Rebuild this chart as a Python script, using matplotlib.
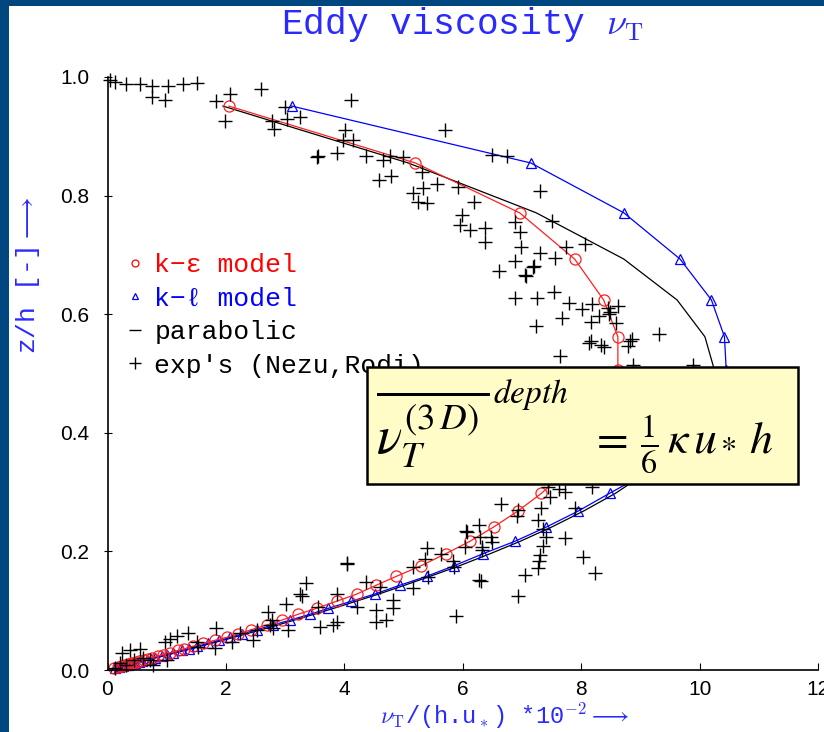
import matplotlib
matplotlib.use('Agg')
import matplotlib.pyplot as plt
from matplotlib.lines import Line2D
from matplotlib.patches import Rectangle
from matplotlib import font_manager

W, H = 824, 732

# z/h levels where the model profiles were written out
z_grid = [0.951, 0.855, 0.771, 0.693, 0.624, 0.562, 0.506, 0.455, 0.410, 0.369,
          0.332, 0.298, 0.268, 0.241, 0.217, 0.196, 0.176, 0.158, 0.143, 0.128,
          0.116, 0.104, 0.094, 0.084, 0.076, 0.068, 0.061, 0.055, 0.050, 0.045,
          0.040, 0.036, 0.033, 0.029, 0.026, 0.024, 0.021, 0.019, 0.017, 0.015,
          0.014, 0.012, 0.011, 0.010, 0.009, 0.008, 0.007, 0.006, 0.005, 0.003]

# nu_T/(h u*) * 1e2
nu_ke = [2.05, 5.20, 6.96, 7.89, 8.38, 8.62, 8.62, 8.50, 8.30, 8.00,
         7.70, 7.33, 6.93, 6.52, 6.12, 5.71, 5.30, 4.88, 4.54, 4.21,
         3.87, 3.53, 3.22, 2.94, 2.69, 2.43, 2.21, 2.01, 1.81, 1.62,
         1.44, 1.30, 1.19, 1.05, 0.94, 0.86, 0.76, 0.68, 0.61, 0.54,
         0.50, 0.43, 0.40, 0.36, 0.32, 0.29, 0.25, 0.22, 0.18, 0.11]
nu_kl = [3.11, 7.15, 8.72, 9.67, 10.20, 10.42, 10.45, 10.30, 10.00, 9.60,
         9.10, 8.48, 7.95, 7.41, 6.88, 6.34, 5.86, 5.39, 4.94, 4.51,
         4.12, 3.73, 3.42, 3.08, 2.80, 2.52, 2.28, 2.07, 1.89, 1.70,
         1.52, 1.37, 1.26, 1.11, 1.00, 0.92, 0.81, 0.73, 0.66, 0.58,
         0.54, 0.47, 0.43, 0.39, 0.35, 0.31, 0.27, 0.23, 0.19, 0.12]
nu_par = [1.95, 5.08, 7.24, 8.72, 9.62, 10.09, 10.25, 10.17, 9.92, 9.55,
          9.09, 8.58, 8.04, 7.50, 6.97, 6.46, 5.95, 5.45, 5.02, 4.58,
          4.20, 3.82, 3.49, 3.15, 2.88, 2.60, 2.35, 2.13, 1.95, 1.76,
          1.57, 1.42, 1.31, 1.15, 1.04, 0.96, 0.84, 0.76, 0.69, 0.61,
          0.57, 0.49, 0.45, 0.41, 0.37, 0.33, 0.29, 0.24, 0.20, 0.12]

# measurements (Nezu, Rodi)
exp_x = [0.05, 0.13, 0.32, 0.55, 0.76, 1.03, 1.27, 1.51, 0.75, 0.97, 1.84, 2.07,
         2.60, 1.98, 3.00, 3.25, 3.04, 2.77, 2.81, 4.12, 5.70, 4.01, 3.98, 4.15,
         3.53, 3.55, 3.87, 4.37, 4.65, 4.77, 4.99, 4.59, 4.78, 5.32, 5.56, 5.33,
         5.16, 5.25, 5.39, 5.92, 6.19, 5.98, 5.95, 6.12, 6.50, 6.74, 7.30, 6.37,
         6.37, 6.89, 6.97, 7.51, 7.75, 8.06, 6.99, 6.88, 7.30, 7.55, 7.19, 7.21,
         7.05, 7.06, 6.62, 6.89, 7.25, 7.54, 7.79, 8.02, 8.19, 7.68, 7.23, 8.17,
         8.30, 8.45, 8.47, 8.49, 8.62, 8.59, 8.16, 8.34, 8.38, 8.82, 8.86, 8.79,
         9.32, 7.65, 9.89, 8.87, 8.14,
         7.62, 7.44, 7.72, 8.18, 7.47, 6.65, 7.33, 7.89, 6.93, 6.91, 6.28, 6.06,
         6.08, 6.29, 7.27, 7.36, 7.41, 7.36, 7.30, 7.29, 7.27, 7.72, 8.03, 8.23,
         6.48, 6.50, 6.32, 6.32, 6.03, 5.84, 5.86, 6.28, 6.30, 7.05, 6.93, 5.88,
         5.39, 5.36, 5.64, 5.16, 5.16, 5.41, 4.04, 4.05, 4.37, 4.60, 4.54, 4.71,
         4.54, 4.82, 4.82, 3.87, 4.21, 3.87, 3.81, 3.59, 3.56, 3.36, 3.25, 3.28,
         3.02, 2.71, 2.77, 2.74, 2.80, 3.05, 2.46, 2.52, 2.24, 2.10, 1.84, 1.81,
         1.51, 1.53, 1.36, 1.17, 1.05, 0.97, 1.00, 0.77, 0.55, 0.38, 0.24, 0.44,
         0.60, 0.72, 0.21, 0.32, 0.13]
exp_y = [0.995, 0.992, 0.988, 0.988, 0.984, 0.984, 0.989, 0.990, 0.966, 0.961, 0.960, 0.972,
         0.980, 0.925, 0.949, 0.933, 0.929, 0.926, 0.912, 0.962, 0.911, 0.911, 0.894, 0.894,
         0.865, 0.866, 0.871, 0.866, 0.860, 0.866, 0.865, 0.826, 0.833, 0.840, 0.819, 0.812,
         0.805, 0.790, 0.787, 0.815, 0.790, 0.768, 0.750, 0.742, 0.868, 0.866, 0.808, 0.745,
         0.721, 0.756, 0.739, 0.758, 0.714, 0.718, 0.713, 0.690, 0.703, 0.694, 0.680, 0.682,
         0.666, 0.664, 0.673, 0.628, 0.628, 0.638, 0.619, 0.608, 0.618, 0.593, 0.580, 0.587,
         0.597, 0.610, 0.601, 0.603, 0.613, 0.586, 0.555, 0.548, 0.545, 0.554, 0.559, 0.546,
         0.567, 0.530, 0.514, 0.514, 0.552,
         0.305, 0.309, 0.301, 0.309, 0.292, 0.280, 0.274, 0.273, 0.270, 0.260, 0.245, 0.235,
         0.233, 0.225, 0.253, 0.237, 0.224, 0.209, 0.194, 0.183, 0.172, 0.222, 0.191, 0.164,
         0.224, 0.216, 0.208, 0.202, 0.208, 0.183, 0.174, 0.152, 0.150, 0.160, 0.125, 0.091,
         0.205, 0.188, 0.196, 0.174, 0.138, 0.157, 0.180, 0.178, 0.149, 0.140, 0.101, 0.084,
         0.081, 0.118, 0.104, 0.129, 0.107, 0.081, 0.076, 0.073, 0.107, 0.146, 0.129, 0.124,
         0.112, 0.098, 0.084, 0.076, 0.070, 0.067, 0.051, 0.067, 0.062, 0.048, 0.070, 0.037,
         0.048, 0.039, 0.063, 0.057, 0.053, 0.047, 0.017, 0.008, 0.035, 0.033, 0.028, 0.017,
         0.020, 0.017, 0.011, 0.008, 0.003]

xticks = [0, 2, 4, 6, 8, 10, 12]
yticks = [0.0, 0.2, 0.4, 0.6, 0.8, 1.0]
ytick_labels = ['0.0', '0.2', '0.4', '0.6', '0.8', '1.0']
legend_labels = ['k\u2212\u03b5 model', 'k\u2212\u2113 model', 'parabolic', "exp's (Nezu,Rodi)"]

installed = {f.name for f in font_manager.fontManager.ttflist}
tick_font = 'Liberation Sans Narrow' if 'Liberation Sans Narrow' in installed else 'Liberation Sans'
MONO = ['Liberation Mono', 'DejaVu Sans Mono', 'DejaVu Sans']
BLUE = '#2a2aff'
NAVY = '#00467f'


def fx(px):
    return px / W


def fy(py):
    return 1 - py / H


fig = plt.figure(figsize=(W / 100, H / 100), dpi=100)
ax = fig.add_axes([fx(107.5), fy(670), fx(818) - fx(107.5), fy(77) - fy(670)])

ax.plot(nu_par, z_grid, color='black', lw=0.9, clip_on=False)
ax.plot(nu_kl, z_grid, color='blue', lw=0.9, marker='^', ms=7, mfc='none',
        mew=0.9, clip_on=False)
ax.plot(nu_ke, z_grid, color='#ff2020', lw=0.9, marker='o', ms=8, mfc='none',
        mew=0.9, clip_on=False)
ax.plot(exp_x, exp_y, ls='none', marker='+', ms=10, mew=1.0, color='black',
        clip_on=False)

ax.set_xlim(0, 12)
ax.set_ylim(0, 1)
ax.spines[['top', 'right']].set_visible(False)
ax.spines[['left', 'bottom']].set_linewidth(1.2)
ax.set_xticks(xticks)
ax.set_yticks(yticks, ytick_labels)
ax.tick_params(axis='x', direction='in', length=5, pad=7, labelsize=15)
ax.tick_params(axis='y', direction='inout', length=6, pad=10, labelsize=15)
for lab in ax.get_xticklabels() + ax.get_yticklabels():
    lab.set_family(tick_font)

# legend, coloured text like the original
handles = [
    Line2D([], [], ls='none', marker='o', ms=5, mfc='none', mec='red', mew=0.9),
    Line2D([], [], ls='none', marker='^', ms=5, mfc='none', mec='blue', mew=0.9),
    Line2D([], [], ls='none', marker='_', ms=9, mec='black', mew=1.0),
    Line2D([], [], ls='none', marker='+', ms=8, mec='black', mew=1.0),
]
ax.legend(handles, legend_labels, loc='upper left', bbox_to_anchor=(fx(124), fy(253)),
          bbox_transform=fig.transFigure, frameon=False, prop={'family': MONO, 'size': 19},
          labelcolor=['red', 'blue', 'black', 'black'], handlelength=0.8,
          handletextpad=0.35, labelspacing=0.36, borderpad=0, borderaxespad=0)

# title and axis labels
fig.text(fx(462), fy(25), r'Eddy viscosity $\nu_\mathrm{T}$', color=BLUE, fontsize=26,
         family=MONO, math_fontfamily='cm', ha='center', va='center')
fig.text(fx(505), fy(716), r'$\nu_\mathrm{T}$/(h.u$_*$) *10$^{-2}\longrightarrow$',
         color=BLUE, fontsize=17, family=MONO, math_fontfamily='cm',
         ha='center', va='center')
fig.text(fx(28), fy(275), r'z/h [-]$\longrightarrow$', color=BLUE, fontsize=19,
         family=MONO, math_fontfamily='cm', rotation=90, ha='center', va='center')

# formula box
fig.add_artist(Rectangle((fx(367), fy(484)), fx(798) - fx(367), fy(367) - fy(484),
                         transform=fig.transFigure, facecolor='#fffcc8',
                         edgecolor='black', lw=1.8, zorder=5))
fig.text(fx(376), fy(430), r'$\overline{\nu_T^{(3\,D)}\,}$', fontsize=38,
         math_fontfamily='stix', ha='left', va='center', zorder=6)
fig.text(fx(493), fy(394), r'$depth$', fontsize=24,
         math_fontfamily='stix', ha='left', va='center', zorder=6)
fig.text(fx(590), fy(445), r'$=\,\frac{1}{6}\,\kappa\,u_*\,h$', fontsize=33,
         math_fontfamily='stix', ha='left', va='center', zorder=6)

# slide frame
fig.add_artist(Rectangle((0, 0), fx(9), 1, transform=fig.transFigure,
                         color=NAVY, lw=0, zorder=0))
fig.add_artist(Rectangle((0, fy(6)), 1, 6 / H, transform=fig.transFigure,
                         color=NAVY, lw=0, zorder=0))

fig.savefig('out.png', dpi=100)
